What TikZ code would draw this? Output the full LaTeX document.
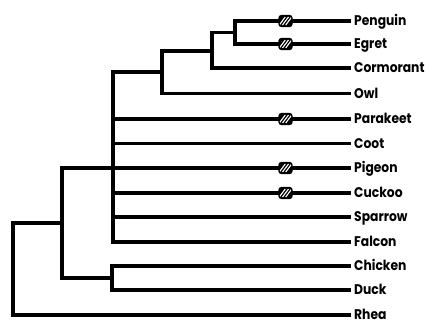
\documentclass[tikz,border=0pt]{standalone}
\usepackage{fontspec}
\setmainfont{Poppins}[FakeStretch=0.88]
\begin{document}
\begin{tikzpicture}[x=1pt,y=-1pt,
  branch/.style={line width=3.6pt,line cap=rect},
  taxon/.style={anchor=base west,inner sep=0pt,font=\fontsize{14}{15}\selectfont\bfseries},
  hatchbox/.style={draw,line width=1.2pt,fill=black,rounded corners=2.5pt,minimum width=13pt,minimum height=11pt,inner sep=0pt,
    path picture={\foreach \d in {-3.2,0,3.2}{\draw[white,line width=1.1pt] ([xshift=\d pt]path picture bounding box.center) ++(-3pt,-4pt) -- ++(6pt,8pt);}}}]
\useasboundingbox (0,0) rectangle (437,323);
% leaf line ends
\coordinate (ePenguin) at (349,21);
\coordinate (eEgret) at (349,44);
\coordinate (eCormorant) at (349,68);
\coordinate (eOwl) at (349,93.5);
\coordinate (eParakeet) at (349,119);
\coordinate (eCoot) at (349,143.5);
\coordinate (ePigeon) at (349,168);
\coordinate (eCuckoo) at (349,193);
\coordinate (eSparrow) at (349,217);
\coordinate (eFalcon) at (349,242);
\coordinate (eChicken) at (349,266);
\coordinate (eDuck) at (349,290);
\coordinate (eRhea) at (349,315);
% internal nodes
\coordinate (nA) at (235,32.5);
\coordinate (nB) at (212,51);
\coordinate (nC) at (162,72);
\coordinate (nD) at (113,168);
\coordinate (nE) at (112,278);
\coordinate (nF) at (62,223);
\coordinate (nR) at (13,223);
% branches
\draw[branch] (nA) |- (ePenguin);
\draw[branch] (nA) |- (eEgret);
\draw[branch] (nB) |- (nA);
\draw[branch] (nB) |- (eCormorant);
\draw[branch] (nC) |- (nB);
\draw[branch] (nC) |- (eOwl);
\draw[branch] (nD) |- (nC);
\draw[branch] (nD) |- (eParakeet);
\draw[branch] (nD) |- (eCoot);
\draw[branch] (nD) -- (ePigeon);
\draw[branch] (nD) |- (eCuckoo);
\draw[branch] (nD) |- (eSparrow);
\draw[branch] (nD) |- (eFalcon);
\draw[branch] (nE) |- (eChicken);
\draw[branch] (nE) |- (eDuck);
\draw[branch] (nF) |- (nD);
\draw[branch] (nF) |- (nE);
\draw[branch] (nR) -- (nF);
\draw[branch] (nR) |- (eRhea);
% hatched markers
\node[hatchbox] (hPenguin) at (285.5,21) {};
\node[hatchbox] (hEgret) at (285.5,44) {};
\node[hatchbox] (hParakeet) at (285.5,119) {};
\node[hatchbox] (hPigeon) at (285.5,168) {};
\node[hatchbox] (hCuckoo) at (285.5,193) {};
% labels
\node[taxon] (tPenguin) at (354,26) {Penguin};
\node[taxon] (tEgret) at (354,49) {Egret};
\node[taxon] (tCormorant) at (354,73) {Cormorant};
\node[taxon] (tOwl) at (354,98.5) {Owl};
\node[taxon] (tParakeet) at (354,124) {Parakeet};
\node[taxon] (tCoot) at (354,148.5) {Coot};
\node[taxon] (tPigeon) at (354,173) {Pigeon};
\node[taxon] (tCuckoo) at (354,198) {Cuckoo};
\node[taxon] (tSparrow) at (354,222) {Sparrow};
\node[taxon] (tFalcon) at (354,247) {Falcon};
\node[taxon] (tChicken) at (354,271) {Chicken};
\node[taxon] (tDuck) at (354,295) {Duck};
\node[taxon] (tRhea) at (354,319.5) {Rhea};
\end{tikzpicture}
\end{document}
